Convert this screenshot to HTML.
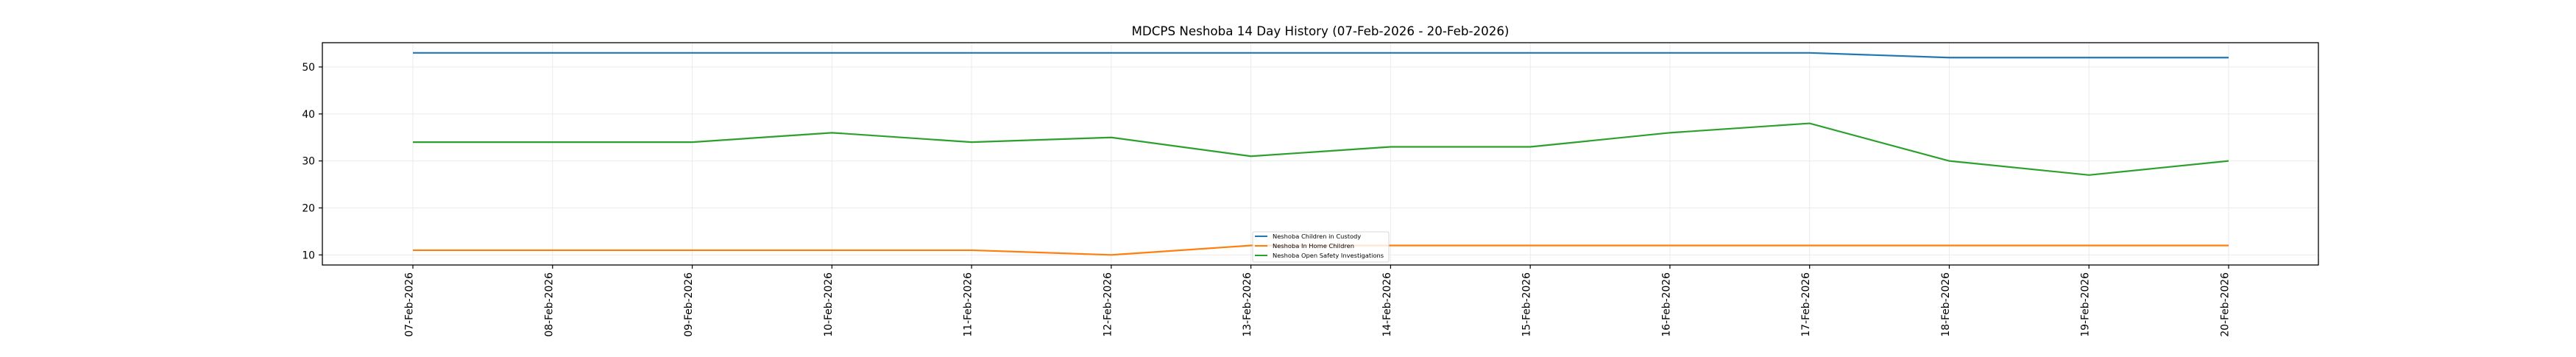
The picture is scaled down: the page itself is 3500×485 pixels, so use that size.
<!DOCTYPE html>
<html><head><meta charset="utf-8"><style>html,body{margin:0;padding:0;background:#fff}</style></head>
<body>
<svg width="3500" height="480" xmlns="http://www.w3.org/2000/svg" font-family="'DejaVu Sans','Liberation Sans',sans-serif">
<rect width="3500" height="480" fill="#fff"/>
<text x="1794" y="48" font-size="16.7" text-anchor="middle" fill="#000">MDCPS Neshoba 14 Day History (07-Feb-2026 - 20-Feb-2026)</text>
<g id="grid" stroke="#ebebeb" stroke-width="1">
</g>
<g id="ticks"></g>
<g id="lines" fill="none" stroke-width="2.2"></g>
<rect x="438" y="58" width="2712" height="302" fill="none" stroke="#000" stroke-width="1.3"/>
<g id="legend">
<rect x="1702" y="315" width="185" height="41" rx="2" fill="#fff" fill-opacity="0.8" stroke="#ccc" stroke-width="0.8"/>
<line x1="1705" y1="321" x2="1722" y2="321" stroke="#1f77b4" stroke-width="2"/>
<line x1="1705" y1="334" x2="1722" y2="334" stroke="#ff7f0e" stroke-width="2"/>
<line x1="1705" y1="347" x2="1722" y2="347" stroke="#2ca02c" stroke-width="2"/>
<text x="1729" y="324" font-size="8.3" fill="#000">Neshoba Children in Custody</text>
<text x="1729" y="337" font-size="8.3" fill="#000">Neshoba In Home Children</text>
<text x="1729" y="350" font-size="8.3" fill="#000">Neshoba Open Safety Investigations</text>
</g>
</svg>
<script>
var ns="http://www.w3.org/2000/svg";
function X(i){return 561+i*189.77;}
function Y(v){return 346.3-(v-10)*6.383;}
function el(p,t,a,txt){var e=document.createElementNS(ns,t);for(var k in a)e.setAttribute(k,a[k]);if(txt)e.textContent=txt;document.getElementById(p).appendChild(e);}
var days=["07","08","09","10","11","12","13","14","15","16","17","18","19","20"];
for(var i=0;i<14;i++){var x=X(i);
el("grid","line",{x1:x,y1:58,x2:x,y2:360});
el("ticks","line",{x1:x,y1:360,x2:x,y2:365,stroke:"#000","stroke-width":1.2});
el("ticks","text",{x:0,y:0,"font-size":"13.9",fill:"#000","text-anchor":"end",transform:"translate("+(x-0.5)+",370) rotate(-90)"},days[i]+"-Feb-2026");}
[10,20,30,40,50].forEach(function(v){var y=Y(v);
el("grid","line",{x1:438,y1:y,x2:3150,y2:y});
el("ticks","line",{x1:433,y1:y,x2:438,y2:y,stroke:"#000","stroke-width":1.2});
el("ticks","text",{x:428,y:y+5,"font-size":"13.9",fill:"#000","text-anchor":"end"},String(v));});
var s=[["#1f77b4",[53,53,53,53,53,53,53,53,53,53,53,52,52,52]],
["#ff7f0e",[11,11,11,11,11,10,12,12,12,12,12,12,12,12]],
["#2ca02c",[34,34,34,36,34,35,31,33,33,36,38,30,27,30]]];
s.forEach(function(q){el("lines","polyline",{stroke:q[0],points:q[1].map(function(v,i){return X(i)+","+Y(v)}).join(" ")});});
</script>
</body></html>
